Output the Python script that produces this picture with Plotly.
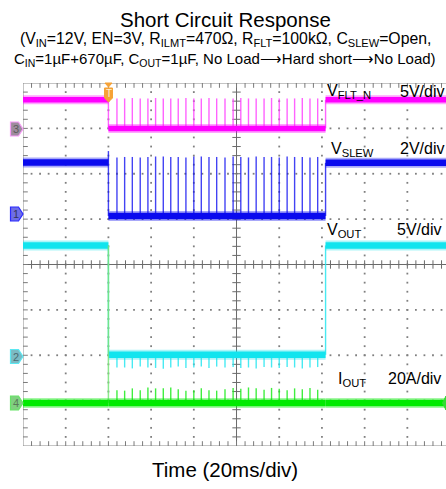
import plotly.graph_objects as go
import numpy as np

# ---------------- data (time in ms, 20 ms/div; vertical in scope divisions) ----------------
t_start, t_end = -100.0, 98.1
t_short = -60.0      # hard short applied
t_release = 41.7     # short removed

spike_times = [-56.0, -52.4, -48.8, -45.1, -41.5, -37.9, -34.3, -30.8, -27.3, -23.7,
               -20.0, -16.5, -12.9, -9.3, -5.4, -1.6, 2.0, 5.6, 9.2, 12.9,
               16.4, 20.0, 23.7, 27.2, 30.8, 34.4, 38.0]

vflt_levels = [3.63, 3.00, 3.63]
vflt_peaks = [3.66, 3.66, 3.67, 3.66, 3.66, 3.67, 3.66, 3.66, 3.66, 3.67,
              3.66, 3.66, 3.67, 3.66, 3.66, 3.66, 3.67, 3.66, 3.66, 3.66,
              3.67, 3.66, 3.66, 3.66, 3.67, 3.66, 3.66]

vslew_levels = [2.25, 1.07, 2.24]
vslew_edge_peak = 2.50
vslew_peaks = [2.36, 2.37, 2.37, 2.36, 2.37, 2.38, 2.38, 2.37, 2.37, 2.36,
               2.38, 2.38, 2.37, 2.37, 2.36, 2.38, 2.37, 2.36, 2.38, 2.37,
               2.37, 2.36, 2.38, 2.37, 2.37, 2.36, 2.37]

vout_levels = [0.42, -1.99, 0.42]
vout_dips = [-2.27, -2.27, -2.29, -2.25, -2.27, -2.28, -2.30, -2.27, -2.25, -2.28,
             -2.27, -2.25, -2.28, -2.25, -2.27, -2.26, -2.28, -2.27, -2.29, -2.26,
             -2.27, -2.28, -2.26, -2.27, -2.29, -2.27, -2.26]

iout_levels = [-3.05, -3.05, -3.05]
iout_short_peak = 0.42
iout_peaks = [-2.77, -2.78, -2.73, -2.77, -2.71, -2.73, -2.73, -2.71, -2.75, -2.78,
              -2.77, -2.73, -2.77, -2.78, -2.75, -2.72, -2.74, -2.71, -2.73, -2.76,
              -2.72, -2.74, -2.77, -2.73, -2.75, -2.72, -2.76]

# ---------------- geometry helpers ----------------
W, H = 446, 489
L, R, T, B = 23, 0, 83, 43
PW, PH = W - L - R, H - T - B


def PX(px):
    return (px - L) / PW


def PY(py):
    return (H - B - py) / PH


def band_xy(levels):
    x = [t_start, t_short, None, t_short, t_release, None, t_release, t_end]
    y = [levels[0], levels[0], None, levels[1], levels[1], None, levels[2], levels[2]]
    return x, y


def spikes_xy(times, base, tops):
    xs, ys = [], []
    for t, p in zip(times, tops):
        xs += [t, t, None]
        ys += [base, p, None]
    return xs, ys


fig = go.Figure()

# ---------------- scope graticule ----------------
grid_col = "#7f7f7f"
minor_x = np.arange(-96, 98.1, 4.0)
minor_y = np.round(np.arange(-3.8, 3.81, 0.2), 3)
dx, dy = [], []
for yy in [-3, -2, -1, 1, 2, 3]:
    dx += list(minor_x)
    dy += [yy] * len(minor_x)
for xx in [-80, -60, -40, -20, 20, 40, 60, 80]:
    dx += [xx] * len(minor_y)
    dy += list(minor_y)
fig.add_trace(go.Scatter(x=dx, y=dy, mode="markers", hoverinfo="skip",
                         marker=dict(symbol="square", size=1.8, color=grid_col,
                                     line=dict(width=0))))
# center-line ticks
fig.add_trace(go.Scatter(x=list(minor_x), y=[0] * len(minor_x), mode="markers", hoverinfo="skip",
                         marker=dict(symbol="line-ns", size=6, line=dict(width=1, color="#6a6a6a"))))
fig.add_trace(go.Scatter(x=[0] * len(minor_y), y=list(minor_y), mode="markers", hoverinfo="skip",
                         marker=dict(symbol="line-ew", size=6, line=dict(width=1, color="#6a6a6a"))))
# border ticks
pxd = (t_end - t_start) / PW
pyd = 8.0 / PH
fig.add_trace(go.Scatter(x=list(minor_x) + list(minor_x), y=[4 - 2 * pyd] * len(minor_x) + [-4 + 2 * pyd] * len(minor_x),
                         mode="markers", hoverinfo="skip",
                         marker=dict(symbol="line-ns", size=4, line=dict(width=1, color="#7a7a7a"))))
fig.add_trace(go.Scatter(x=[t_start + 2 * pxd] * len(minor_y), y=list(minor_y), mode="markers", hoverinfo="skip",
                         marker=dict(symbol="line-ew", size=4, line=dict(width=1, color="#7a7a7a"))))

shapes = []
for (x0, y0, x1, y1, c) in [(t_start, 4, t_end, 4, "#8a8a8a"), (t_start, -4, t_end, -4, "#8a8a8a"),
                            (t_start, -4, t_start, 4, "#8a8a8a"),
                            (t_start, 0, t_end, 0, "#6a6a6a"), (0, -4, 0, 4, "#6a6a6a")]:
    shapes.append(dict(type="line", xref="x", yref="y", x0=x0, y0=y0, x1=x1, y1=y1,
                       line=dict(color=c, width=1), layer="below"))

# ---------------- channel traces ----------------
chans = [
    ("#FF00FF", "rgba(255,60,255,0.8)", vflt_levels, vflt_peaks, None, 7),
    ("#0A0AEE", "rgba(20,20,240,0.8)", vslew_levels, vslew_peaks, vslew_edge_peak, 8),
    ("#12E4EE", "rgba(40,230,240,0.85)", vout_levels, vout_dips, None, 8),
]
for col, scol, lev, pk, edge_pk, w in chans:
    sx, sy = spikes_xy(spike_times, lev[1], pk)
    fig.add_trace(go.Scatter(x=sx, y=sy, mode="lines", hoverinfo="skip",
                             line=dict(color=scol, width=1.4)))
    top = edge_pk if edge_pk is not None else lev[0]
    fig.add_trace(go.Scatter(x=[t_short, t_short, None, t_release, t_release],
                             y=[top, lev[1], None, lev[1], lev[2]], mode="lines", hoverinfo="skip",
                             line=dict(color=scol, width=1.4)))
    bx, by = band_xy(lev)
    fig.add_trace(go.Scatter(x=bx, y=by, mode="lines", hoverinfo="skip", opacity=0.35,
                             line=dict(color=col, width=w + 2)))
    fig.add_trace(go.Scatter(x=bx, y=by, mode="lines", hoverinfo="skip",
                             line=dict(color=col, width=w - 1.5)))

# IOUT
gcol = "#00EA00"
fig.add_trace(go.Scatter(x=[t_short, t_short], y=[iout_levels[1], iout_short_peak], mode="lines",
                         hoverinfo="skip", line=dict(color="rgba(120,228,120,0.85)", width=1.5)))
sx, sy = spikes_xy(spike_times, iout_levels[1], iout_peaks)
fig.add_trace(go.Scatter(x=sx, y=sy, mode="lines", hoverinfo="skip",
                         line=dict(color="rgba(30,235,30,0.85)", width=1.4)))
bx, by = band_xy(iout_levels)
fig.add_trace(go.Scatter(x=bx, y=by, mode="lines", hoverinfo="skip", opacity=0.35,
                         line=dict(color=gcol, width=10)))
fig.add_trace(go.Scatter(x=bx, y=by, mode="lines", hoverinfo="skip",
                         line=dict(color=gcol, width=6.5)))

# ---------------- channel markers (left) and trigger marker ----------------
def arrow_path(cy, x0=10.5, x1=18.5, x2=23.0, hh=7.0):
    pts = [(x0, cy - hh), (x1, cy - hh), (x2, cy), (x1, cy + hh), (x0, cy + hh)]
    return "M " + " L ".join(f"{PX(a):.5f},{PY(b):.5f}" for a, b in pts) + " Z"


markers = [("3", 129.0, "#9E8C9E", "#F79CF7", "#5c5c5c"),
           ("1", 214.0, "#6E6EE6", "#2A2AFF", "#34345a"),
           ("2", 356.5, "#7BBAC3", "#5CE8F2", "#4a6c72"),
           ("4", 403.0, "#80D080", "#66E466", "#5a7a5a")]
annotations = []
for lab, cy, fill, border, tc in markers:
    shapes.append(dict(type="path", xref="paper", yref="paper", path=arrow_path(cy),
                       fillcolor=fill, line=dict(color=border, width=1.2), layer="above"))
    annotations.append(dict(x=PX(15.5), y=PY(cy), xref="paper", yref="paper", text=lab,
                            showarrow=False, xanchor="center", yanchor="middle",
                            font=dict(size=11, color=tc, family="Liberation Sans, Arial, sans-serif")))

# trigger badge
tx = 108.5
tri = [(tx - 3.5, 83), (tx + 3.5, 83), (tx, 87)]
badge = [(tx - 4, 88), (tx + 4, 88), (tx + 4, 98), (tx, 102), (tx - 4, 98)]
for pts in (tri, badge):
    shapes.append(dict(type="path", xref="paper", yref="paper",
                       path="M " + " L ".join(f"{PX(a):.5f},{PY(b):.5f}" for a, b in pts) + " Z",
                       fillcolor="#F6A236", line=dict(color="#F6A236", width=1), layer="above"))
annotations.append(dict(x=PX(tx), y=PY(94), xref="paper", yref="paper", text="T", showarrow=False,
                        xanchor="center", yanchor="middle",
                        font=dict(size=10, color="#FFF0D0", family="Liberation Sans, Arial, sans-serif")))
# right-edge ch4 marker (partially cut off)
shapes.append(dict(type="path", xref="paper", yref="paper",
                   path=f"M {PX(446):.5f},{PY(396):.5f} L {PX(442.5):.5f},{PY(403):.5f} L {PX(446):.5f},{PY(410):.5f} Z",
                   fillcolor="#33DD33", line=dict(color="#33DD33", width=1), layer="above"))

# ---------------- text ----------------
FONT = "Liberation Sans, Arial, sans-serif"


def tpos(px):
    return t_start + (px - L) * pxd


def vpos(py):
    return 4 - (py - T) * pyd


labels = [("V<sub>FLT_N</sub>", 325, 91), ("5V/div", 398, 91),
          ("V<sub>SLEW</sub>", 329, 149), ("2V/div", 398, 148),
          ("V<sub>OUT</sub>", 325, 230), ("5V/div", 395, 229),
          ("I<sub>OUT</sub>", 336, 379), ("20A/div", 386, 378)]
for txt, px, py in labels:
    annotations.append(dict(x=tpos(px), y=vpos(py), xref="x", yref="y", text=txt, showarrow=False,
                            xanchor="left", yanchor="middle",
                            font=dict(size=16, color="black", family=FONT)))

title_lines = [("Short Circuit Response", 19, 20.5),
               ("(V<sub>IN</sub>=12V, EN=3V, R<sub>ILMT</sub>=470Ω, R<sub>FLT</sub>=100kΩ, C<sub>SLEW</sub>=Open,", 39, 15.8),
               ("C<sub>IN</sub>=1µF+670µF, C<sub>OUT</sub>=1µF, No Load⟶Hard short⟶No Load)", 59.5, 15.0),
               ("Time (20ms/div)", 469, 20.5)]
for txt, py, fs in title_lines:
    annotations.append(dict(x=PX(225), y=PY(py), xref="paper", yref="paper", text=txt, showarrow=False,
                            xanchor="center", yanchor="middle",
                            font=dict(size=fs, color="black", family=FONT)))

fig.update_layout(
    width=W, height=H, margin=dict(l=L, r=R, t=T, b=B),
    paper_bgcolor="white", plot_bgcolor="white", showlegend=False,
    xaxis=dict(range=[t_start, t_end], visible=False, showgrid=False, zeroline=False, fixedrange=True),
    yaxis=dict(range=[-4, 4], visible=False, showgrid=False, zeroline=False, fixedrange=True),
    shapes=shapes, annotations=annotations,
)

fig.write_html("out.html")
